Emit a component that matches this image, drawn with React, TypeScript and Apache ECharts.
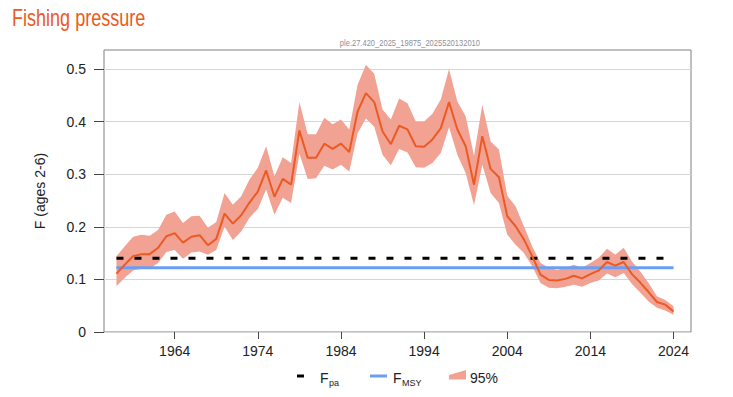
import React, { useEffect, useRef } from "react";
import * as echarts from "echarts";

const years = [
  1957, 1958, 1959, 1960, 1961, 1962, 1963, 1964, 1965, 1966,
  1967, 1968, 1969, 1970, 1971, 1972, 1973, 1974, 1975, 1976,
  1977, 1978, 1979, 1980, 1981, 1982, 1983, 1984, 1985, 1986,
  1987, 1988, 1989, 1990, 1991, 1992, 1993, 1994, 1995, 1996,
  1997, 1998, 1999, 2000, 2001, 2002, 2003, 2004, 2005, 2006,
  2007, 2008, 2009, 2010, 2011, 2012, 2013, 2014, 2015, 2016,
  2017, 2018, 2019, 2020, 2021, 2022, 2023, 2024,
];

const fValues = [
  0.111, 0.128, 0.144, 0.148, 0.148, 0.16, 0.182, 0.188, 0.17, 0.181,
  0.184, 0.165, 0.177, 0.225, 0.206, 0.222, 0.246, 0.267, 0.307, 0.257,
  0.291, 0.28, 0.383, 0.331, 0.331, 0.358, 0.348, 0.358, 0.342, 0.419,
  0.454, 0.437, 0.381, 0.357, 0.392, 0.385, 0.353, 0.352, 0.366, 0.387,
  0.437, 0.385, 0.353, 0.28, 0.372, 0.31, 0.294, 0.22, 0.201, 0.176,
  0.144, 0.109, 0.099, 0.098, 0.101, 0.107, 0.102, 0.11, 0.117, 0.133,
  0.126, 0.133, 0.11, 0.094, 0.076, 0.057, 0.052, 0.039,
];

const fHigh = [
  0.144, 0.163, 0.181, 0.185, 0.183, 0.194, 0.223, 0.229, 0.207, 0.22,
  0.221, 0.198, 0.209, 0.264, 0.242, 0.258, 0.29, 0.312, 0.353, 0.296,
  0.332, 0.321, 0.437, 0.376, 0.376, 0.407, 0.395, 0.404, 0.385, 0.47,
  0.508, 0.491, 0.423, 0.404, 0.444, 0.435, 0.4, 0.4, 0.415, 0.442,
  0.5, 0.438, 0.41, 0.335, 0.432, 0.362, 0.347, 0.259, 0.239, 0.201,
  0.163, 0.131, 0.122, 0.118, 0.122, 0.128, 0.122, 0.131, 0.141, 0.158,
  0.147, 0.16, 0.134, 0.115, 0.093, 0.068, 0.061, 0.049,
];

const fLow = [
  0.087, 0.103, 0.117, 0.12, 0.12, 0.131, 0.152, 0.156, 0.139, 0.151,
  0.153, 0.147, 0.156, 0.2, 0.175, 0.191, 0.217, 0.234, 0.271, 0.223,
  0.255, 0.245, 0.339, 0.291, 0.292, 0.316, 0.309, 0.318, 0.305, 0.378,
  0.406, 0.39, 0.337, 0.317, 0.348, 0.341, 0.313, 0.312, 0.321, 0.34,
  0.389, 0.337, 0.302, 0.241, 0.318, 0.264, 0.245, 0.185, 0.166, 0.15,
  0.125, 0.093, 0.084, 0.083, 0.086, 0.09, 0.086, 0.093, 0.098, 0.111,
  0.104, 0.112, 0.091, 0.075, 0.058, 0.046, 0.041, 0.033,
];

const FPA = 0.14;
const FMSY = 0.122;
const refYears = [1957, 2024];
const xTicks = [1964, 1974, 1984, 1994, 2004, 2014, 2024];
const yTicks = [0, 0.1, 0.2, 0.3, 0.4, 0.5];

const FONT = "'Liberation Sans', Arial, sans-serif";
const ORANGE = "#ec5a24";
const BAND = "#f1a293";
const BLUE = "#6a9ef4";

export default function App() {
  const ref = useRef<HTMLDivElement>(null);

  useEffect(() => {
    if (!ref.current) return;
    const chart = echarts.init(ref.current, undefined, { renderer: "svg" });

    const bandData = years.map((y, i) => [y, fLow[i], fHigh[i]]);

    const option: any = {
      animation: false,
      backgroundColor: "#ffffff",
      grid: {
        left: 104,
        right: 42,
        top: 50,
        bottom: 65,
        show: true,
        borderColor: "#808080",
        borderWidth: 1,
        backgroundColor: "transparent",
      },
      xAxis: {
        type: "value",
        min: 1955.5,
        max: 2026.1,
        axisLine: { show: false },
        splitLine: { show: false },
        axisTick: {
          show: true,
          length: 7,
          customValues: xTicks,
          lineStyle: { color: "#444" },
        },
        axisLabel: {
          customValues: xTicks,
          fontSize: 14,
          color: "#222",
          margin: 12,
          fontFamily: FONT,
          formatter: (v: number) => String(v),
        },
      },
      yAxis: {
        type: "value",
        min: 0,
        max: 0.536,
        axisLine: { show: false },
        axisTick: {
          show: true,
          length: 10,
          customValues: yTicks,
          lineStyle: { color: "#444" },
        },
        axisLabel: {
          customValues: yTicks,
          fontSize: 14,
          color: "#222",
          margin: 18,
          fontFamily: FONT,
          formatter: (v: number) => String(v),
        },
        splitLine: { show: true, lineStyle: { color: "#d6d6d6", width: 1 } },
        name: "F (ages 2-6)",
        nameLocation: "middle",
        nameGap: 57,
        nameTextStyle: { fontSize: 14, color: "#222", fontFamily: FONT },
      },
      series: [
        {
          name: "95%",
          type: "custom",
          data: bandData,
          encode: { x: 0, y: [1, 2] },
          silent: true,
          z: 1,
          renderItem: (params: any, api: any) => {
            if (params.dataIndex !== 0) return null;
            const upper = bandData.map((d) => api.coord([d[0], d[2]]));
            const lower = bandData
              .slice()
              .reverse()
              .map((d) => api.coord([d[0], d[1]]));
            return {
              type: "polygon",
              shape: { points: upper.concat(lower) },
              style: { fill: BAND, stroke: null },
            };
          },
        },
        {
          name: "Fpa",
          type: "line",
          data: refYears.map((y) => [y, FPA]),
          symbol: "none",
          silent: true,
          lineStyle: { color: "#000", width: 3, type: [7, 11] },
          z: 3,
        },
        {
          name: "FMSY",
          type: "line",
          data: refYears.map((y) => [y, FMSY]),
          symbol: "none",
          silent: true,
          lineStyle: { color: BLUE, width: 3 },
          z: 3,
        },
        {
          name: "F",
          type: "line",
          data: years.map((y, i) => [y, fValues[i]]),
          symbol: "none",
          silent: true,
          lineStyle: { color: ORANGE, width: 2 },
          z: 4,
        },
      ],
      graphic: [
        {
          type: "text",
          x: 12,
          y: 18,
          scaleX: 0.785,
          style: {
            text: "Fishing pressure",
            fontSize: 23,
            fill: ORANGE,
            fontFamily: FONT,
            verticalAlign: "middle",
          },
        },
        {
          type: "text",
          x: 480,
          y: 43,
          scaleX: 0.84,
          style: {
            text: "ple.27.420_2025_19875_2025520132010",
            fontSize: 9,
            fill: "#8c9099",
            fontFamily: FONT,
            align: "right",
            verticalAlign: "middle",
          },
        },
        { type: "rect", shape: { x: 297, y: 374.5, width: 7, height: 3 }, style: { fill: "#000" } },
        { type: "text", x: 320, y: 378, style: { text: "F", fontSize: 14, fill: "#222", fontFamily: FONT, verticalAlign: "middle" } },
        { type: "text", x: 329, y: 382.5, style: { text: "pa", fontSize: 9, fill: "#222", fontFamily: FONT, verticalAlign: "middle" } },
        { type: "line", shape: { x1: 370, y1: 376, x2: 387, y2: 376 }, style: { stroke: BLUE, lineWidth: 3 } },
        { type: "text", x: 393, y: 378, style: { text: "F", fontSize: 14, fill: "#222", fontFamily: FONT, verticalAlign: "middle" } },
        { type: "text", x: 402, y: 382.5, style: { text: "MSY", fontSize: 9, fill: "#222", fontFamily: FONT, verticalAlign: "middle" } },
        { type: "polygon", shape: { points: [[449, 375], [466, 370], [466, 379.5], [449, 379.5]] }, style: { fill: BAND } },
        { type: "text", x: 470, y: 378, style: { text: "95%", fontSize: 14, fill: "#222", fontFamily: FONT, verticalAlign: "middle" } },
      ],
    };

    chart.setOption(option);
    return () => chart.dispose();
  }, []);

  return <div ref={ref} style={{ width: 733, height: 397, position: "absolute", left: 0, top: 0 }} />;
}
